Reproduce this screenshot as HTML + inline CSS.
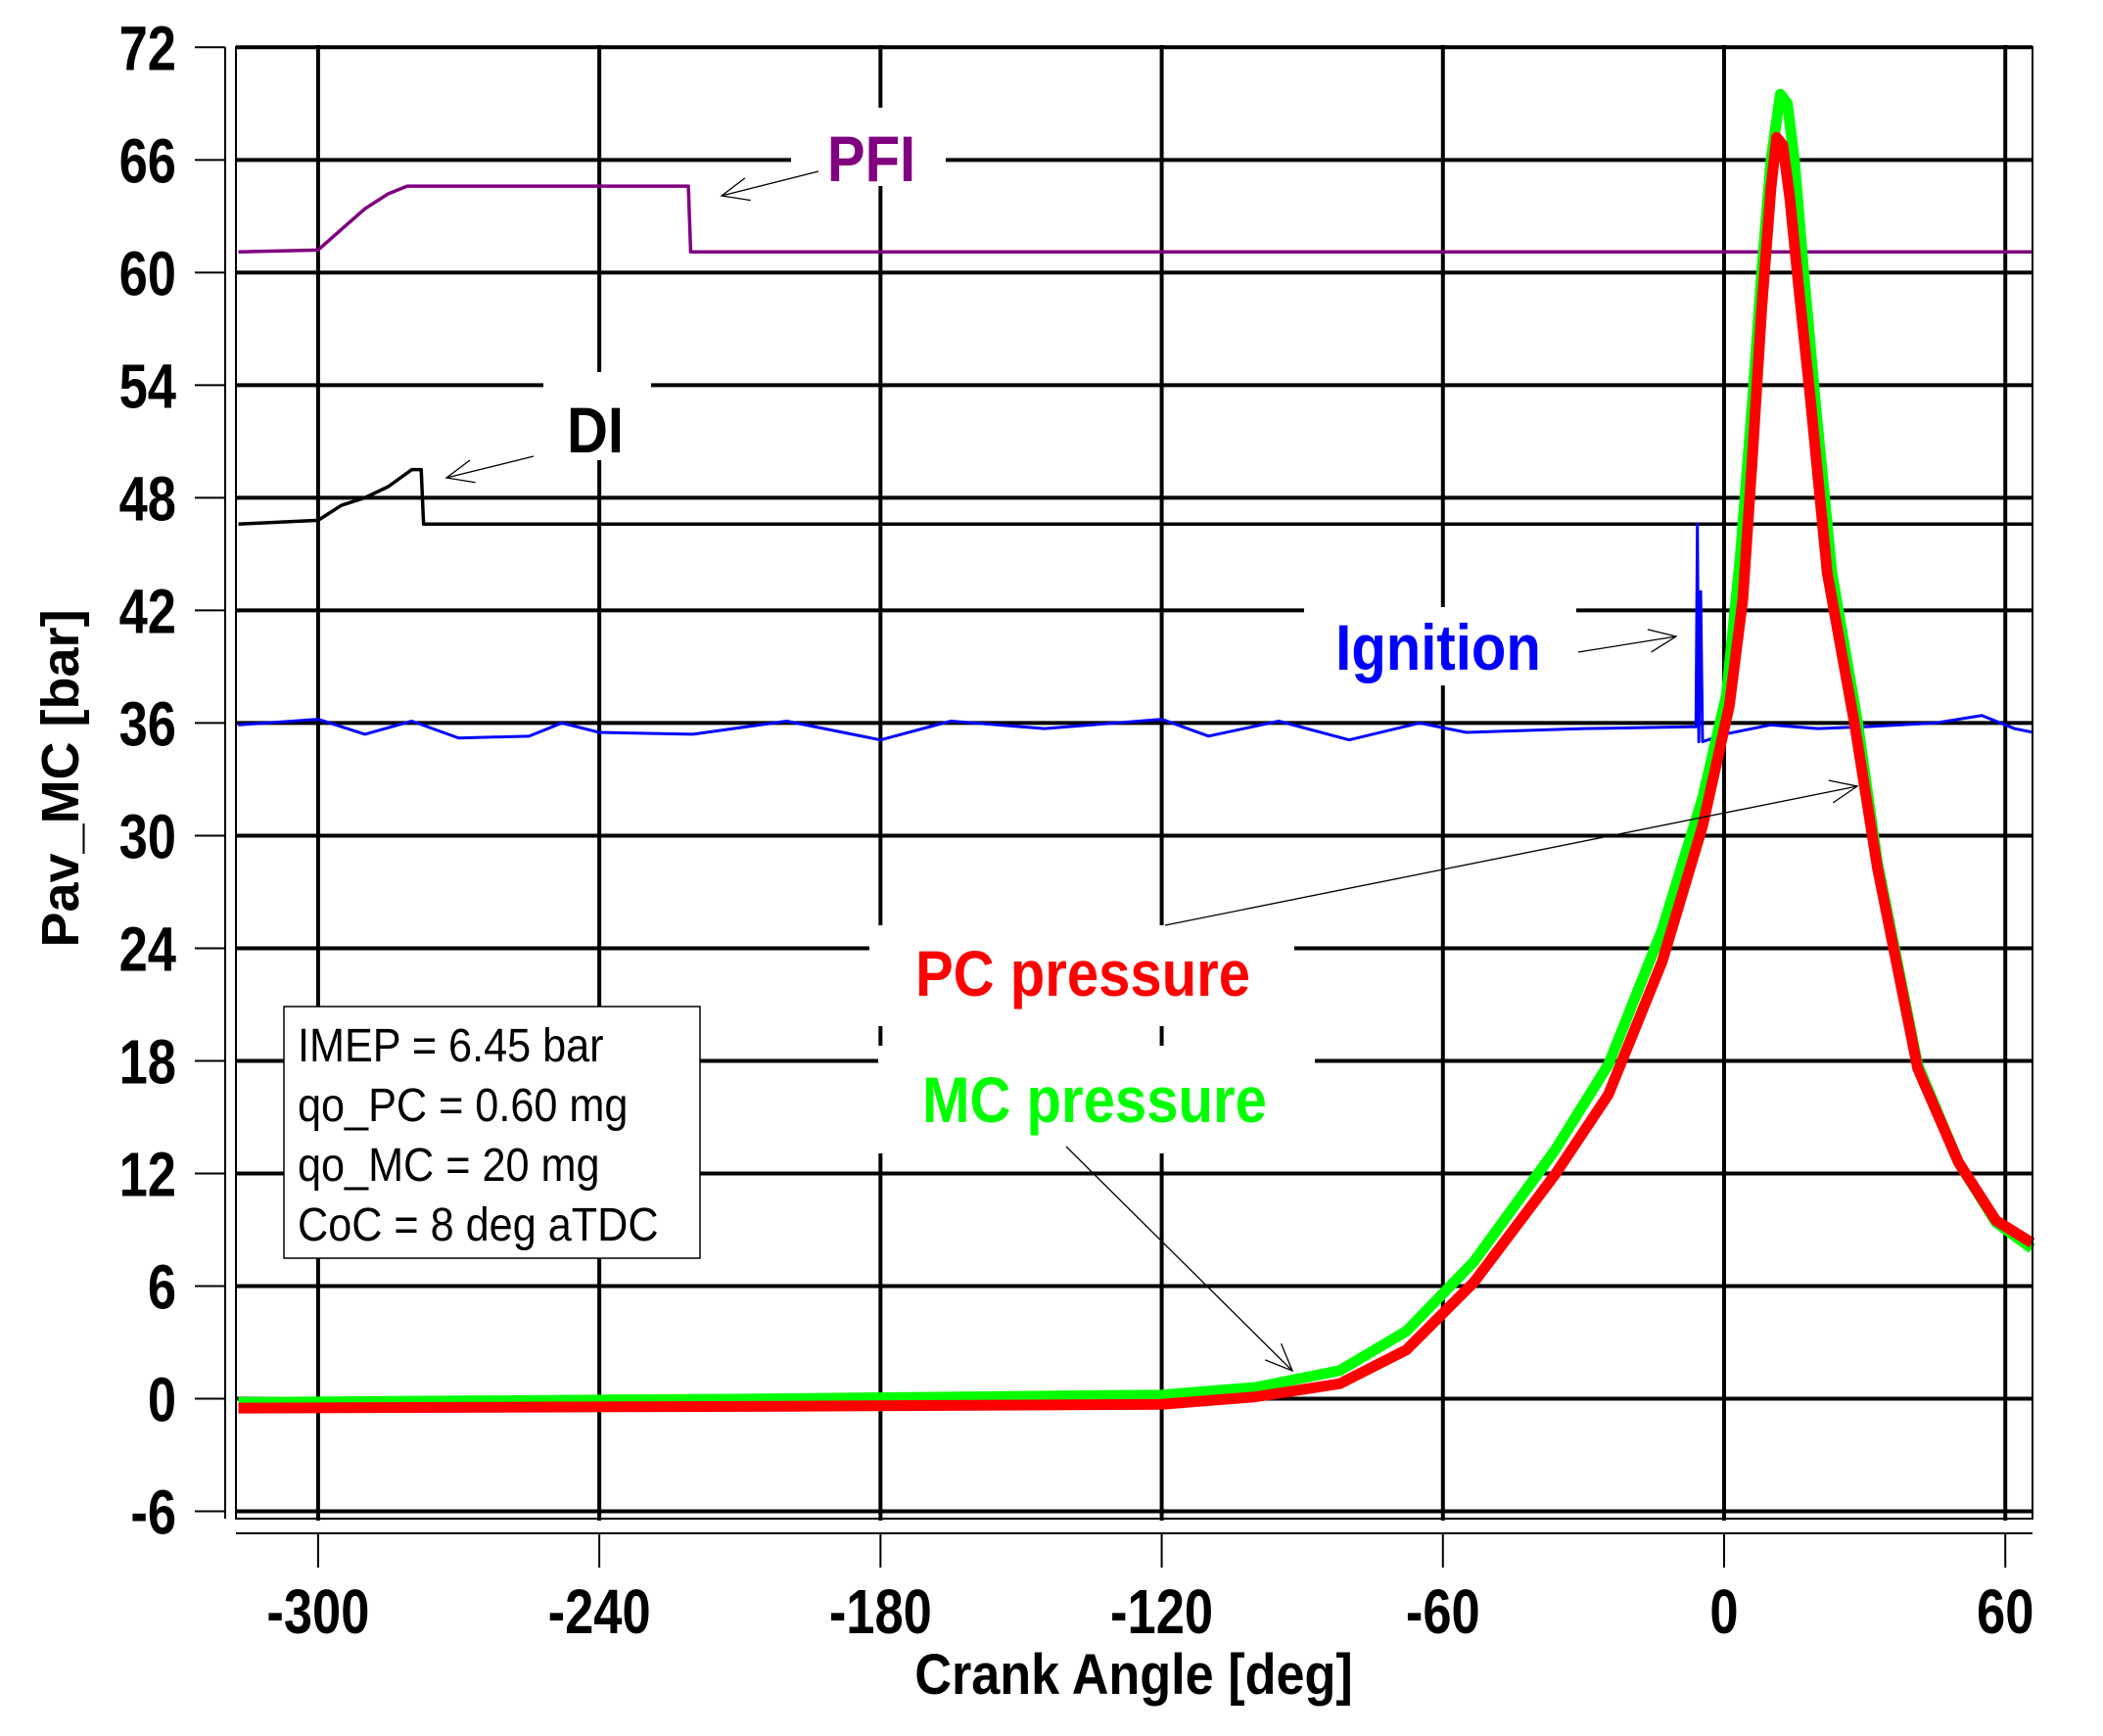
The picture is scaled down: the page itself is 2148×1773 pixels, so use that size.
<!DOCTYPE html>
<html><head><meta charset="utf-8"><style>
html,body{margin:0;padding:0;background:#fff;}
svg{display:block;font-family:"Liberation Sans",sans-serif;}
</style></head><body>
<svg id="chart" width="2148" height="1773" viewBox="0 0 2148 1773" xmlns="http://www.w3.org/2000/svg">
<g id="grid"></g>
<g id="masks"></g>
<g id="series"></g>
<g id="axes"></g>
<g id="annot"></g>
</svg>
<script>
const xTicks = [-300,-240,-180,-120,-60,0,60];
const yTicks = [-6,0,6,12,18,24,30,36,42,48,54,60,66,72];
const pfiDeg = [-317,-300,-295,-290,-285,-281,-221,-220.5,66];
const pfiVal = [61.1,61.2,62.3,63.4,64.2,64.6,64.6,61.1,61.1];
const diDeg = [-317,-300,-295,-290,-285,-280,-278,-277.5,66];
const diVal = [46.6,46.8,47.6,48.0,48.6,49.5,49.5,46.6,46.6];
const ignDeg = [-317,-300,-290,-280,-270,-255,-248,-240,-220,-200,-180,-165,-145,-120,-110,-95,-80,-65,-55,-30,-7,-6,-5.7,-5.4,-5,-4.6,0,10,20,30,45,55,62,66];
const ignVal = [35.9,36.2,35.4,36.1,35.2,35.3,36,35.5,35.4,36.1,35.1,36.1,35.7,36.2,35.3,36.1,35.1,36,35.5,35.7,35.8,35.8,46.6,35,43,35,35.4,35.9,35.7,35.8,36,36.4,35.7,35.5];
const pcDeg = [-317,-200,-120,-100,-82,-67.8,-53.4,-36.2,-24.7,-13.2,-4.6,1.1,4,6,8,10,11.2,12.5,14,16,18.4,22,27.8,32.7,41.3,50,58,65.7];
const pcVal = [-0.5,-0.4,-0.3,0.1,0.8,2.6,6.2,11.9,16.2,23.3,30.5,36.9,42.6,50,58,64.5,67.2,66.8,64,59,53.3,44,36,28.3,17.6,12.6,9.5,8.3];
const mcDeg = [-317,-200,-120,-100,-82,-67.8,-53.4,-36.2,-24.7,-13.2,-4.6,0.5,3.5,6,8,10,12,13.5,15,17,19.5,23,28.5,32.7,41.3,50,58,65.7];
const mcVal = [-0.2,0,0.2,0.6,1.5,3.6,7.3,13.2,17.8,25,32,37.5,45,53,60,66,69.5,69,66,60,53,44,36,28.6,17.8,12.6,9.4,8.0];

const L=241,R=2076,T=48,B=1551;
const X=d=>1761+d*4.787;
const Y=v=>48.3+(72-v)*19.17;
const NS="http://www.w3.org/2000/svg";
function mk(parent,tag,attrs,text){const e=document.createElementNS(NS,tag);for(const k in attrs)e.setAttribute(k,attrs[k]);if(text!==undefined)e.textContent=text;parent.appendChild(e);return e;}
const grid=document.getElementById('grid'),masks=document.getElementById('masks'),series=document.getElementById('series'),axes=document.getElementById('axes'),annot=document.getElementById('annot');

yTicks.forEach(v=>{
 const l=mk(grid,'line',{x1:L,x2:R,y1:Y(v),y2:Y(v),stroke:'#000','stroke-width':4});
 
 
 const t=mk(axes,'line',{x1:199,x2:230,y1:Y(v),y2:Y(v),stroke:'#000','stroke-width':2});
 
 
 const tx=mk(axes,'text',{transform:`translate(180,${Y(v)+23}) scale(0.82,1)`,'text-anchor':'end','font-size':64,'font-weight':'bold'},String(v));
 
 
});
xTicks.forEach(d=>{
 const l=mk(grid,'line',{x1:X(d),x2:X(d),y1:T-2,y2:B+2,stroke:'#000','stroke-width':4});
 
 
 const t=mk(axes,'line',{x1:X(d),x2:X(d),y1:1566,y2:1601,stroke:'#000','stroke-width':2});
 
 
 const tx=mk(axes,'text',{transform:`translate(${X(d)},1668) scale(0.82,1)`,'text-anchor':'middle','font-size':64,'font-weight':'bold'},String(d));
 
 
});
const box=mk(axes,'rect',{x:L,y:T,width:R-L,height:B-T,fill:'none',stroke:'#000','stroke-width':2});


const ya=mk(axes,'line',{x1:230,x2:230,y1:T,y2:B,stroke:'#000','stroke-width':2});


const xa=mk(axes,'line',{x1:L,x2:R,y1:1566,y2:1566,stroke:'#000','stroke-width':2});


const yt=mk(axes,'text',{transform:'translate(80,795) rotate(-90)','text-anchor':'middle','font-size':54,'font-weight':'bold'},'Pav_MC [bar]');


const xt=mk(axes,'text',{transform:'translate(1158,1730) scale(0.9,1)','text-anchor':'middle','font-size':58,'font-weight':'bold'},'Crank Angle [deg]');



[[808,110,158,80],[555,380,110,90],[1332,620,278,80],[888,945,434,103],[897,1068,446,110]].forEach(r=>{
 const m=mk(masks,'rect',{x:r[0],y:r[1],width:r[2],height:r[3],fill:'#fff'});
 
 
});
const ib=mk(masks,'rect',{x:290,y:1028,width:425,height:257,fill:'#fff',stroke:'#000','stroke-width':1.5});



function line(degs,vals,color,w,name){
 const p=mk(series,'polyline',{points:degs.map((d,i)=>X(d)+','+Y(vals[i])).join(' '),fill:'none',stroke:color,'stroke-width':w,'stroke-linejoin':'round'});
 
 
}
line(pfiDeg,pfiVal,'#800080',3.5,'pfi-line');
line(diDeg,diVal,'#000',3.5,'di-line');
line(ignDeg,ignVal,'#0000ff',3,'ignition-line');
line(mcDeg,mcVal,'#00ff00',11,'mc-pressure-line');
line(pcDeg,pcVal,'#ff0000',11,'pc-pressure-line');

function lbl(txt,x,y,color,fs,name){
 const t=mk(annot,'text',{transform:`translate(${x},${y}) scale(0.88,1)`,'text-anchor':'middle','font-size':fs,'font-weight':'bold',fill:color},txt);
 
 
}
lbl('PFI',890,185,'#800080',66,'pfi-label');
lbl('DI',608,462,'#000',66,'di-label');
lbl('Ignition',1469,684,'#0000ff',66,'ignition-label');
lbl('PC pressure',1106,1017,'#ff0000',66,'pc-pressure-label');
lbl('MC pressure',1118,1146,'#00ff00',66,'mc-pressure-label');

function arrow(x1,y1,x2,y2,name){
 const g=mk(annot,'g',{stroke:'#000','stroke-width':1.3,fill:'none'});
 
 
 mk(g,'line',{x1,y1,x2,y2});
 const a=Math.atan2(y2-y1,x2-x1),h=30,s=0.4;
 mk(g,'polyline',{points:`${x2-h*Math.cos(a-s)},${y2-h*Math.sin(a-s)} ${x2},${y2} ${x2-h*Math.cos(a+s)},${y2-h*Math.sin(a+s)}`});
}
arrow(836,175,737,200,'pfi-arrow');
arrow(545,466,456,488,'di-arrow');
arrow(1612,666,1712,650,'ignition-arrow');
arrow(1190,945,1897,803,'pc-pressure-arrow');
arrow(1089,1171,1320,1400,'mc-pressure-arrow');

['IMEP = 6.45 bar','qo_PC = 0.60 mg','qo_MC = 20 mg','CoC = 8 deg aTDC'].forEach((s,i)=>{
 const t=mk(annot,'text',{transform:`translate(304,${1084+i*61}) scale(0.9,1)`,'font-size':48},s);
 
 
});
</script>
</body></html>
